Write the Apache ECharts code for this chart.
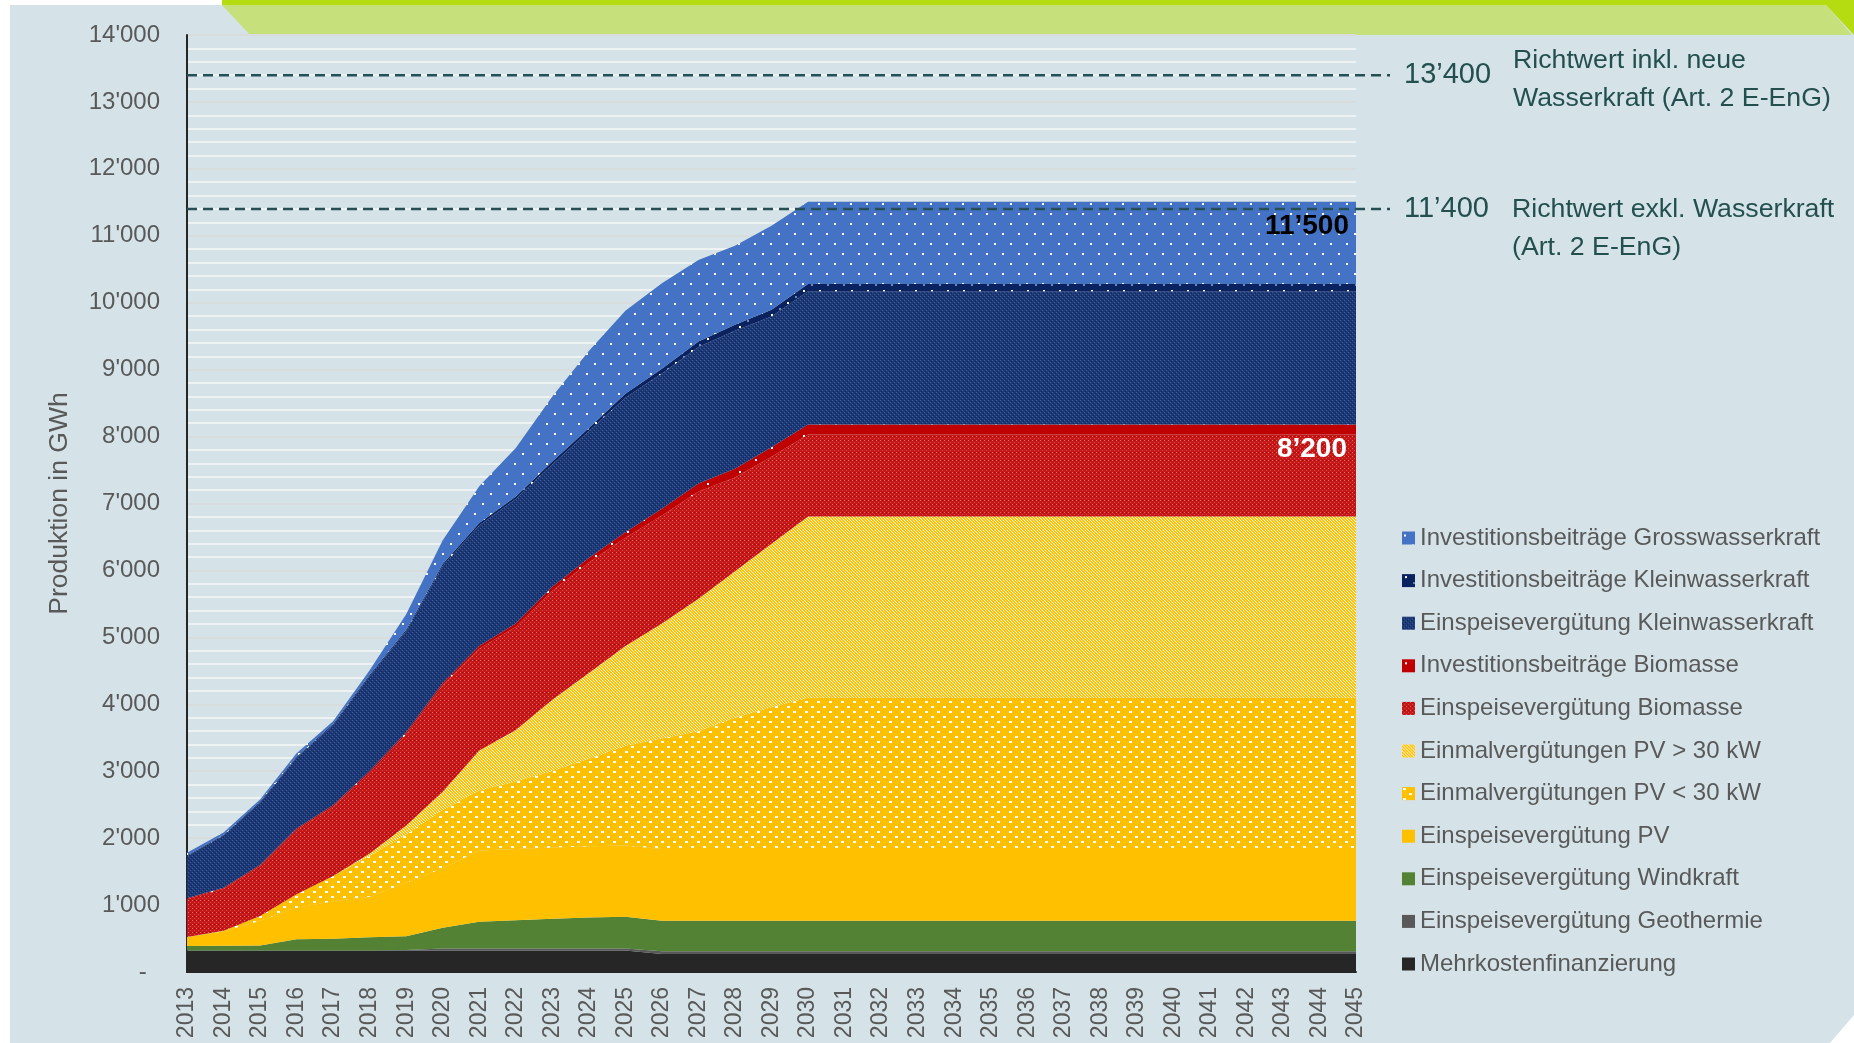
<!DOCTYPE html>
<html>
<head>
<meta charset="utf-8">
<script src="https://cdn.jsdelivr.net/npm/echarts@6/dist/echarts.min.js"></script>
<style>
html, body { margin: 0; padding: 0; background: #fff; }
#main { width: 1854px; height: 1043px; }
</style>
</head>
<body>
<div id="main"></div>
<script>
// Jahre
var years = ['2013', '2014', '2015', '2016', '2017', '2018', '2019', '2020', '2021', '2022', '2023',
    '2024', '2025', '2026', '2027', '2028', '2029', '2030', '2031', '2032', '2033', '2034',
    '2035', '2036', '2037', '2038', '2039', '2040', '2041', '2042', '2043', '2044', '2045'];

// Produktion in GWh je Förderinstrument (von unten nach oben gestapelt)
var mehrkosten = [320, 320, 320, 320, 320, 320, 320, 320, 320, 320, 320, 320, 320, 270, 270, 270, 270, 270,
    270, 270, 270, 270, 270, 270, 270, 270, 270, 270, 270, 270, 270, 270, 270];
var geothermie = [0, 0, 0, 0, 0, 0, 10, 30, 30, 30, 30, 30, 30, 40, 40, 40, 40, 40,
    40, 40, 40, 40, 40, 40, 40, 40, 40, 40, 40, 40, 40, 40, 40];
var windkraft = [68, 73, 75, 170, 176, 200, 205, 310, 400, 425, 445, 465, 475, 457, 457, 457, 457, 457,
    457, 457, 457, 457, 457, 457, 457, 457, 457, 457, 457, 457, 457, 457, 457];
var einspeisePV = [130, 215, 370, 470, 560, 604, 800, 889, 1064, 1064, 1064, 1064, 1064, 1070, 1070, 1070, 1070, 1070,
    1070, 1070, 1070, 1070, 1070, 1070, 1070, 1070, 1070, 1070, 1070, 1070, 1070, 1070, 1070];
var pvKlein = [5, 10, 70, 200, 380, 610, 721, 870, 896, 1007, 1146, 1306, 1491, 1650, 1760, 1960, 2120, 2260,
    2260, 2260, 2260, 2260, 2260, 2260, 2260, 2260, 2260, 2260, 2260, 2260, 2260, 2260, 2260];
var pvGross = [0, 0, 0, 0, 0, 35, 134, 275, 598, 768, 1064, 1282, 1490, 1720, 1980, 2190, 2440, 2710,
    2710, 2710, 2710, 2710, 2710, 2710, 2710, 2710, 2710, 2710, 2710, 2710, 2710, 2710, 2710];
var einspeiseBio = [565, 627, 745, 964, 1032, 1208, 1364, 1590, 1522, 1543, 1629, 1650, 1620, 1613, 1603, 1403, 1303, 1223,
    1223, 1223, 1223, 1223, 1223, 1223, 1223, 1223, 1223, 1223, 1223, 1223, 1223, 1223, 1223];
var investBio = [15, 15, 20, 20, 25, 25, 30, 35, 40, 50, 60, 70, 80, 100, 120, 130, 140, 150,
    150, 150, 150, 150, 150, 150, 150, 150, 150, 150, 150, 150, 150, 150, 150];
var einspeiseKlein = [627, 780, 927, 1057, 1193, 1419, 1506, 1746, 1803, 1859, 1824, 1892, 2010, 2023, 2040, 2060, 1955, 1990,
    1990, 1990, 1990, 1990, 1990, 1990, 1990, 1990, 1990, 1990, 1990, 1990, 1990, 1990, 1990];
var investKlein = [10, 10, 15, 15, 20, 20, 25, 30, 35, 40, 45, 50, 60, 70, 80, 90, 100, 110,
    110, 110, 110, 110, 110, 110, 110, 110, 110, 110, 110, 110, 110, 110, 110];
var investGross = [40, 35, 35, 54, 39, 68, 230, 355, 550, 724, 973, 1151, 1240, 1277, 1220, 1180, 1255, 1230,
    1230, 1230, 1230, 1230, 1230, 1230, 1230, 1230, 1230, 1230, 1230, 1230, 1230, 1230, 1230];

// Richtwerte und Summen
var richtwertInkl = 13400;
var richtwertExkl = 11400;
var summeTotal = 11500;
var summeOhneWasser = 8200;

// Füllmuster
function pattern(w, h, base, dots) {
    var c = document.createElement('canvas');
    c.width = w;
    c.height = h;
    var g = c.getContext('2d');
    g.fillStyle = base;
    g.fillRect(0, 0, w, h);
    dots.forEach(function (d) {
        g.fillStyle = d[4];
        g.fillRect(d[0], d[1], d[2], d[3]);
    });
    return { image: c, repeat: 'repeat' };
}
var W = '#ffffff';
var fills = {
    gross: pattern(16, 20, '#4472c4', [[2, 3, 2, 2, W], [10, 13, 2, 2, W]]),
    invKlein: pattern(16, 12, '#0b2260', [[3, 2, 2, 2, W], [11, 8, 2, 2, '#6f86b8']]),
    einKlein: pattern(4, 4, '#1e3a76', [[0, 0, 1, 1, '#3d5c9e'], [2, 2, 1, 1, '#3d5c9e'], [1, 3, 1, 1, '#0e2458'], [3, 1, 1, 1, '#0e2458']]),
    invBio: pattern(16, 12, '#c00000', [[3, 3, 2, 2, W]]),
    einBio: pattern(4, 4, '#c41818', [[0, 0, 1, 1, '#e26c6c'], [2, 2, 1, 1, '#d84a4a'], [2, 0, 1, 1, '#aa0808']]),
    pvGross: pattern(6, 6, '#ffc000', [[0, 0, 1, 1, W], [3, 0, 1, 1, '#ffe8a0'], [1, 1, 1, 1, W], [4, 1, 1, 1, '#ffe8a0'],
        [2, 2, 1, 1, W], [5, 2, 1, 1, W], [0, 3, 1, 1, '#ffe8a0'], [3, 3, 1, 1, W], [1, 4, 1, 1, W], [4, 4, 1, 1, W], [2, 5, 1, 1, '#ffe8a0'], [5, 5, 1, 1, W]]),
    pvKlein: pattern(12, 10, '#ffc000', [[1, 1, 3, 2, W], [7, 6, 3, 2, W]]),
    einPV: '#ffc000',
    wind: '#548235',
    geo: '#595959',
    mehr: '#262626'
};

var seriesDefs = [
    ['Mehrkostenfinanzierung', mehrkosten, fills.mehr],
    ['Einspeisevergütung Geothermie', geothermie, fills.geo],
    ['Einspeisevergütung Windkraft', windkraft, fills.wind],
    ['Einspeisevergütung PV', einspeisePV, fills.einPV],
    ['Einmalvergütungen PV < 30 kW', pvKlein, fills.pvKlein],
    ['Einmalvergütungen PV > 30 kW', pvGross, fills.pvGross],
    ['Einspeisevergütung Biomasse', einspeiseBio, fills.einBio],
    ['Investitionsbeiträge Biomasse', investBio, fills.invBio],
    ['Einspeisevergütung Kleinwasserkraft', einspeiseKlein, fills.einKlein],
    ['Investitionsbeiträge Kleinwasserkraft', investKlein, fills.invKlein],
    ['Investitionsbeiträge Grosswasserkraft', investGross, fills.gross]
];

var chart = echarts.init(document.getElementById('main'));
var fontFam = '"Liberation Sans", Arial, sans-serif';

option = {
    backgroundColor: '#ffffff',
    animation: false,
    textStyle: { fontFamily: fontFam },
    grid: { left: 187, right: 498, top: 35, bottom: 71, containLabel: false },
    legend: {
        orient: 'vertical',
        left: 1397,
        top: 521,
        icon: 'rect',
        itemWidth: 13,
        itemHeight: 13,
        itemGap: 18.6,
        selectedMode: false,
        textStyle: { color: '#595959', fontSize: 24, lineHeight: 24, fontFamily: fontFam },
        data: seriesDefs.map(function (d) { return d[0]; }).reverse()
    },
    xAxis: {
        type: 'category',
        boundaryGap: false,
        data: years,
        axisLine: { show: true, lineStyle: { color: '#262626', width: 2 } },
        axisTick: { show: false },
        axisLabel: { rotate: 90, margin: 15, color: '#595959', fontSize: 23, interval: 0, fontFamily: fontFam },
        splitLine: { show: false }
    },
    yAxis: {
        type: 'value',
        min: 0,
        max: 14000,
        interval: 1000,
        name: 'Produktion in GWh',
        nameLocation: 'middle',
        nameRotate: 90,
        nameGap: 114,
        nameTextStyle: { color: '#595959', fontSize: 26.5, fontFamily: fontFam },
        axisLine: { show: true, lineStyle: { color: '#262626', width: 2 } },
        axisTick: { show: false },
        axisLabel: {
            margin: 27,
            color: '#595959',
            fontSize: 24,
            fontFamily: fontFam,
            formatter: function (v) {
                if (v === 0) return '-  ';
                return String(v).replace(/\B(?=(\d{3})+(?!\d))/g, "'");
            }
        },
        splitLine: { show: true, lineStyle: { color: '#d9dcdd', width: 2 } },
        minorTick: { show: false, splitNumber: 5 },
        minorSplitLine: { show: true, lineStyle: { color: '#eef2f3', width: 2 } }
    },
    series: seriesDefs.map(function (d) {
        return {
            name: d[0],
            type: 'line',
            stack: 'total',
            symbol: 'none',
            showSymbol: false,
            smooth: false,
            lineStyle: { width: 0 },
            itemStyle: { color: d[2] },
            areaStyle: { color: d[2], opacity: 1 },
            data: d[1]
        };
    })
};
chart.setOption(option);

// Hintergrund, Richtwertlinien und Beschriftungen
var xLeft = chart.convertToPixel({ xAxisIndex: 0 }, years[0]);
var xRight = chart.convertToPixel({ xAxisIndex: 0 }, years[years.length - 1]);
var yInkl = chart.convertToPixel({ yAxisIndex: 0 }, richtwertInkl);
var yExkl = chart.convertToPixel({ yAxisIndex: 0 }, richtwertExkl);
var yTot = chart.convertToPixel({ yAxisIndex: 0 }, summeTotal);
var yOhne = chart.convertToPixel({ yAxisIndex: 0 }, summeOhneWasser);
var teal = '#23504f';

chart.setOption({
    graphic: [
        { type: 'polygon', z: -10, silent: true,
          shape: { points: [[10, 5], [1854, 5], [1854, 1015], [1830, 1043], [10, 1043]] },
          style: { fill: '#d5e3e8' } },
        { type: 'polygon', z: -9, silent: true,
          shape: { points: [[222, 0], [1854, 0], [1854, 35], [1826, 5], [222, 5]] },
          style: { fill: '#b5dc10' } },
        { type: 'polygon', z: -9, silent: true,
          shape: { points: [[222, 5], [1826, 5], [1852, 35], [250, 35]] },
          style: { fill: '#c6e17b' } },
        { type: 'line', z: 50, silent: true,
          shape: { x1: xLeft, y1: yInkl, x2: xRight + 34, y2: yInkl },
          style: { stroke: '#254f52', lineWidth: 2.5, lineDash: [10, 6] } },
        { type: 'line', z: 50, silent: true,
          shape: { x1: xLeft, y1: yExkl, x2: xRight + 34, y2: yExkl },
          style: { stroke: '#254f52', lineWidth: 2.5, lineDash: [10, 6] } },
        { type: 'text', z: 50, x: xRight + 48, y: yInkl,
          style: { text: '13’400', fill: teal, font: '29px ' + fontFam, textAlign: 'left', textVerticalAlign: 'middle' } },
        { type: 'text', z: 50, x: xRight + 48, y: yExkl,
          style: { text: '11’400', fill: teal, font: '29px ' + fontFam, textAlign: 'left', textVerticalAlign: 'middle' } },
        { type: 'text', z: 50, x: 1513, y: yInkl - 34,
          style: { text: 'Richtwert inkl. neue\nWasserkraft (Art. 2 E-EnG)', fill: teal, font: '26.7px ' + fontFam,
                   lineHeight: 38, textAlign: 'left', textVerticalAlign: 'top' } },
        { type: 'text', z: 50, x: 1512, y: yExkl - 18,
          style: { text: 'Richtwert exkl. Wasserkraft\n(Art. 2 E-EnG)', fill: teal, font: '26.7px ' + fontFam,
                   lineHeight: 38, textAlign: 'left', textVerticalAlign: 'top' } },
        { type: 'text', z: 50, x: xRight - 7, y: yTot + 24,
          style: { text: '11’500', fill: '#000000', font: 'bold 28px ' + fontFam, textAlign: 'right', textVerticalAlign: 'middle' } },
        { type: 'text', z: 50, x: xRight - 9, y: yOhne + 26,
          style: { text: '8’200', fill: '#ffffff', font: 'bold 28px ' + fontFam, textAlign: 'right', textVerticalAlign: 'middle' } }
    ]
});
</script>
</body>
</html>
